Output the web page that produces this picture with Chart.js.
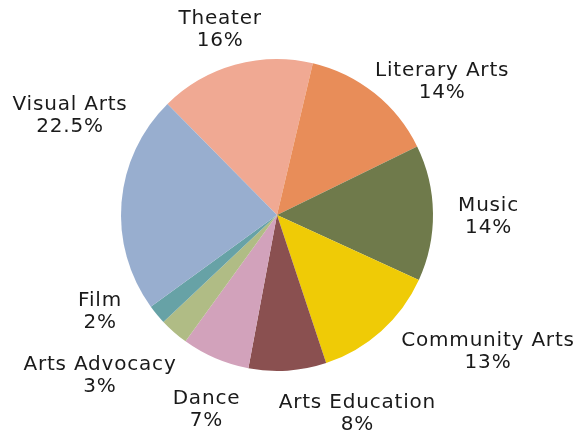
<!DOCTYPE html>
<html>
<head>
<meta charset="utf-8">
<script src="https://cdn.jsdelivr.net/npm/chart.js@4"></script>
<style>
	html, body { margin: 0; padding: 0; background: #ffffff; }
	#wrap { width: 581px; height: 436px; }
</style>
</head>
<body>
<div id="wrap"><canvas id="pie"></canvas></div>
<script>
"use strict";

// funding share by discipline, clockwise from the top-left (Theater)
const categories = ['Theater', 'Literary Arts', 'Music', 'Community Arts', 'Arts Education', 'Dance', 'Arts Advocacy', 'Film', 'Visual Arts'];
const shares = [16, 14, 14, 13, 8, 7, 3, 2, 22.5];
const sliceColors = ['#F0A993', '#E88D59', '#6F7A4B', '#EFCB06', '#8A5050', '#D2A2BB', '#B0BC85', '#67A2A6', '#98AECF'];

// where each label sits: [angle clockwise from top in degrees, distance in pie radii]
const labelSpots = [
	[342.9, 1.239],
	[51.2, 1.358],
	[90.4, 1.356],
	[122.9, 1.611],
	[158.0, 1.375],
	[199.9, 1.328],
	[227.7, 1.534],
	[241.4, 1.292],
	[295.6, 1.471],
];

const outsideLabels = {
	id: 'outsideLabels',
	afterDatasetsDraw(chart) {
		const ctx = chart.ctx;
		const meta = chart.getDatasetMeta(0);
		ctx.save();
		ctx.font = '20px "DejaVu Sans"';
		ctx.letterSpacing = '0.8px';
		ctx.fillStyle = '#1a1a1a';
		ctx.textAlign = 'center';
		ctx.textBaseline = 'middle';
		meta.data.forEach(function(arc, i) {
			const r = arc.outerRadius * labelSpots[i][1];
			const a = labelSpots[i][0] * Math.PI / 180;
			const x = arc.x + Math.sin(a) * r;
			const y = arc.y - Math.cos(a) * r;
			ctx.fillText(categories[i], x, y - 11);
			ctx.fillText(shares[i] + '%', x, y + 11);
		});
		ctx.restore();
	}
};

new Chart(document.getElementById('pie'), {
	type: 'pie',
	data: {
		labels: categories,
		datasets: [{
			data: shares,
			backgroundColor: sliceColors,
			borderWidth: 0,
		}]
	},
	options: {
		responsive: true,
		maintainAspectRatio: false,
		animation: false,
		rotation: -44.6,
		layout: {
			padding: { top: 59, bottom: 65, left: 121, right: 148 }
		},
		plugins: {
			legend: { display: false },
			tooltip: { enabled: false },
		}
	},
	plugins: [outsideLabels]
});
</script>
</body>
</html>
